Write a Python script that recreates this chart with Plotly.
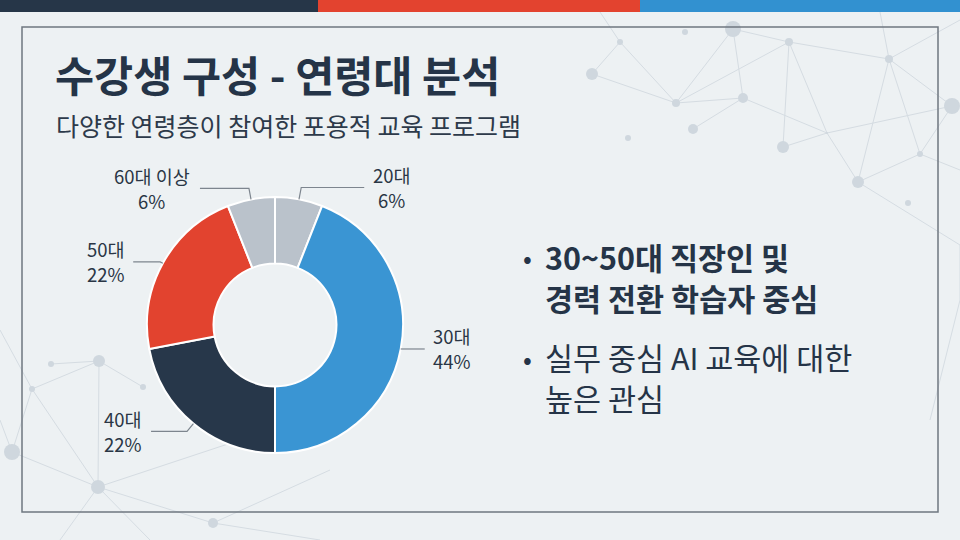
import math
import plotly.graph_objects as go

# ---------------- data ----------------
age_groups = ["20대", "30대", "40대", "50대", "60대 이상"]
shares = [6, 44, 22, 22, 6]
slice_colors = ["#bac2cb", "#3a95d3", "#27374a", "#e2432f", "#bac2cb"]

title_text = "수강생 구성 - 연령대 분석"
subtitle_text = "다양한 연령층이 참여한 포용적 교육 프로그램"
bullet_lines = [
    ["30~50대 직장인 및", "경력 전환 학습자 중심"],
    ["실무 중심 AI 교육에 대한", "높은 관심"],
]

# ---------------- layout helpers ----------------
W, H = 960, 540
FONT = "Noto Sans CJK KR"
DARK = "#253447"
LABEL_SIZE = 18.5


def px(x):
    return x / W


def py(y):
    return 1 - y / H


def est_width(s, size):
    w = 0.0
    for ch in s:
        if ch == " ":
            w += 0.25
        elif ord(ch) > 0x3000:
            w += 1.0
        elif ch == "%":
            w += 0.85
        else:
            w += 0.56
    return w * size


# donut geometry (pixels)
CX, CY, R = 275, 325, 128
HOLE = 0.48
# leader-line styling per label: (side, radial extension, horizontal length)
leader_style = [(1, 12, 63), (1, 0, 24), (-1, 10, 36), (-1, 3, 27), (-1, 11, 49)]

fig = go.Figure()

fig.add_trace(go.Pie(
    labels=age_groups,
    values=shares,
    hole=HOLE,
    sort=False,
    direction="clockwise",
    rotation=0,
    marker=dict(colors=slice_colors, line=dict(color="#ffffff", width=2)),
    textinfo="none",
    hoverinfo="label+percent",
    showlegend=False,
    domain=dict(x=[px(CX - R), px(CX + R)], y=[py(CY + R), py(CY - R)]),
))

shapes = []
annotations = []

# ---------------- background decoration (network pattern) ----------------
nodes = [
    (733, 29, 8), (685, 32, 3), (620, 42, 3), (592, 74, 6), (676, 103, 4),
    (743, 98, 5), (693, 129, 5), (628, 138, 3), (789, 42, 4), (889, 59, 4),
    (952, 106, 8), (827, 133, 1), (783, 147, 6), (858, 182, 6), (920, 154, 3),
    (908, 203, 3),
    (99, 361, 6), (51, 364, 3), (32, 389, 3), (12, 452, 8), (98, 487, 7),
    (143, 387, 3), (213, 523, 5),
    (600, 12, 0), (880, 12, 0), (960, 20, 0), (960, 170, 0), (960, 245, 0),
    (0, 330, 0), (0, 420, 0), (60, 540, 0), (240, 440, 0), (320, 540, 0),
    (150, 540, 0), (330, 470, 0), (960, 300, 0), (930, 420, 0),
]
edges = [
    (2, 3), (2, 4), (2, 23), (3, 4), (4, 5), (4, 0), (0, 5), (0, 8), (4, 8),
    (6, 5), (5, 11), (8, 12), (8, 11), (12, 11), (11, 10), (11, 13), (8, 9),
    (9, 13), (9, 10), (9, 14), (9, 25), (9, 24), (13, 14), (14, 10), (14, 26),
    (13, 27), (27, 35), (35, 36),
    (16, 18), (16, 21), (16, 20), (18, 19), (19, 20), (20, 22), (18, 20),
    (28, 18), (19, 29), (20, 30), (20, 31), (22, 32), (20, 33), (22, 34),
    (16, 17),
]
for a, b in edges:
    x0, y0, _ = nodes[a]
    x1, y1, _ = nodes[b]
    shapes.append(dict(type="line", xref="paper", yref="paper", layer="below",
                       x0=px(x0), y0=py(y0), x1=px(x1), y1=py(y1),
                       line=dict(color="#d5dce2", width=1)))
for x, y, r in nodes:
    if r > 0:
        shapes.append(dict(type="circle", xref="paper", yref="paper", layer="below",
                           x0=px(x - r), x1=px(x + r), y0=py(y + r), y1=py(y - r),
                           fillcolor="#cfd7de", line=dict(width=0)))

# ---------------- top colour bar ----------------
bar_cols = ["#263648", "#e3432f", "#3291d0"]
bar_edges = [0, 318, 640, 960]
for i, c in enumerate(bar_cols):
    shapes.append(dict(type="rect", xref="paper", yref="paper",
                       x0=px(bar_edges[i]), x1=px(bar_edges[i + 1]),
                       y0=py(12), y1=py(0), fillcolor=c, line=dict(width=0)))

# ---------------- frame ----------------
shapes.append(dict(type="rect", xref="paper", yref="paper", layer="below",
                   x0=px(22), x1=px(938), y0=py(512), y1=py(27),
                   fillcolor="rgba(0,0,0,0)", line=dict(color="#6f7780", width=1.5)))

# ---------------- donut labels with leader lines ----------------
total = sum(shares)
start = 0.0
for lab, val, (side, ext, hlen) in zip(age_groups, shares, leader_style):
    span = 360.0 * val / total
    mid = math.radians(start + span / 2)
    start += span
    ex, ey = CX + R * math.sin(mid), CY - R * math.cos(mid)
    kx, ky = CX + (R + ext) * math.sin(mid), CY - (R + ext) * math.cos(mid)
    hx = kx + side * hlen
    shapes.append(dict(type="path", xref="paper", yref="paper",
                       path=f"M {px(ex)} {py(ey)} L {px(kx)} {py(ky)} L {px(hx)} {py(ky)}",
                       line=dict(color="#7d858e", width=1.2)))
    l1, l2 = lab, f"{val}%"
    half = max(est_width(l1, LABEL_SIZE), est_width(l2, LABEL_SIZE)) / 2
    lx = hx + side * (8 + half)
    for txt, dy in ((l1, -12.5), (l2, 12.5)):
        annotations.append(dict(
            xref="paper", yref="paper", x=px(lx), y=py(ky + dy),
            xanchor="center", yanchor="middle",
            text=txt, showarrow=False,
            font=dict(family=FONT, size=LABEL_SIZE, color="#2a3645")))

# ---------------- title & subtitle ----------------
annotations.append(dict(xref="paper", yref="paper", x=px(53), y=py(73),
                        xanchor="left", yanchor="middle", showarrow=False,
                        text=title_text,
                        font=dict(family=FONT, size=42.5, color=DARK, weight=700)))
annotations.append(dict(xref="paper", yref="paper", x=px(54), y=py(125),
                        xanchor="left", yanchor="middle", showarrow=False,
                        text=subtitle_text,
                        font=dict(family=FONT, size=25, color="#2d3a4a")))

# ---------------- bullets ----------------
bullet_y = [257, 357]
weights = [700, 400]
for lines, y0, wgt in zip(bullet_lines, bullet_y, weights):
    annotations.append(dict(xref="paper", yref="paper", x=px(527), y=py(y0),
                            xanchor="center", yanchor="middle", showarrow=False,
                            text="•", font=dict(family=FONT, size=26, color=DARK)))
    for j, line in enumerate(lines):
        annotations.append(dict(xref="paper", yref="paper", x=px(543), y=py(y0 + 40.5 * j),
                                xanchor="left", yanchor="middle", showarrow=False,
                                text=line,
                                font=dict(family=FONT, size=30.5, color=DARK, weight=wgt)))

fig.update_layout(
    width=W, height=H,
    margin=dict(l=0, r=0, t=0, b=0),
    paper_bgcolor="#edf1f3",
    plot_bgcolor="#edf1f3",
    shapes=shapes,
    annotations=annotations,
    showlegend=False,
)

fig.write_html("out.html", config={"displayModeBar": False},
               post_script="document.body.style.margin='0';")
